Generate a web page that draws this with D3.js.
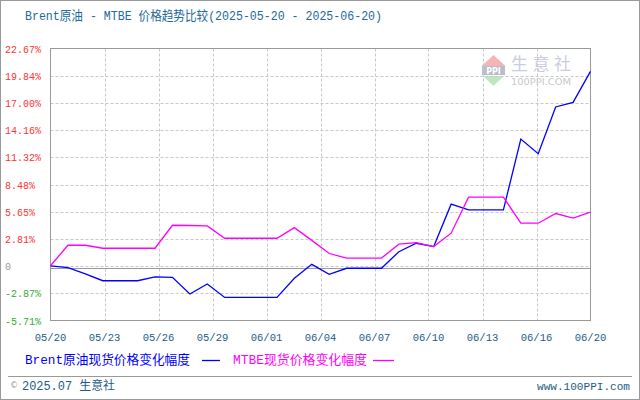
<!DOCTYPE html>
<html><head><meta charset="utf-8">
<script src="https://cdn.jsdelivr.net/npm/d3@7"></script>
<style>
html,body{margin:0;padding:0;background:#fff;}
svg{display:block;}
</style></head>
<body>
<svg id="c" width="640" height="400"></svg>
<script>
// ---- data ----
const startDate = "2025-05-20";
const endDate = "2025-06-20";
const brent = [0, -0.2, -0.85, -1.56, -1.56, -1.56, -1.15, -1.2, -2.95, -1.9, -3.3, -3.3, -3.3, -3.3, -1.3, 0.15, -0.9, -0.26, -0.26, -0.26, 1.47, 2.35, 2.0, 6.43, 5.83, 5.83, 5.83, 13.22, 11.69, 16.57, 17.05, 20.29];
const mtbe = [0, 2.14, 2.14, 1.83, 1.83, 1.83, 1.83, 4.23, 4.2, 4.16, 2.87, 2.87, 2.87, 2.87, 3.98, 2.65, 1.28, 0.8, 0.8, 0.8, 2.25, 2.42, 2.0, 3.4, 7.16, 7.16, 7.16, 4.44, 4.44, 5.45, 4.97, 5.59];
const xTickLabels = ["05/20","05/23","05/26","05/29","06/01","06/04","06/07","06/10","06/13","06/16","06/20"];
const yTickLabels = ["-5.71%","-2.87%","0","2.81%","5.65%","8.48%","11.32%","14.16%","17.00%","19.84%","22.67%"];
const yMin = -5.71, yMax = 22.67;
const titleText = "Brent原油 - MTBE 价格趋势比较(2025-05-20 - 2025-06-20)";
const seriesNames = ["Brent原油现货价格变化幅度", "MTBE现货价格变化幅度"];
const seriesColors = ["#0000ff", "#ff00ff"];

const parse = d3.timeParse("%Y-%m-%d");
const d0 = parse(startDate), d1 = parse(endDate);
const dates = d3.timeDay.range(d0, d3.timeDay.offset(d1, 1));

const svg = d3.select("#c");
const L = 50.5, R = 590.5, T = 48.5, B = 320.5;
const x = d3.scaleTime().domain([d0, d1]).range([L, R]);
const y = d3.scaleLinear().domain([yMin, yMax]).range([B, T]);

const mono = "'Liberation Mono','DejaVu Sans Mono','Noto Sans CJK SC',monospace";

// outer border
svg.append("rect").attr("x",0.5).attr("y",0.5).attr("width",639).attr("height",399)
  .attr("fill","#fff").attr("stroke","#999");

// title
svg.append("text").attr("x",25).attr("y",20).text(titleText)
  .attr("font-family",mono).attr("font-size",13).attr("fill","#22699c")
  .attr("textLength",357).attr("lengthAdjust","spacingAndGlyphs");

// watermark
const wm = svg.append("g");
wm.append("path").attr("d","M481.5,66 L493.5,55 L505.5,66 Z").attr("fill","#f4b6b4");
wm.append("rect").attr("x",482).attr("y",66).attr("width",23).attr("height",9).attr("fill","#b8bccc");
wm.append("text").attr("x",493.5).attr("y",74).attr("text-anchor","middle").text("PPI")
  .attr("font-family","DejaVu Sans").attr("font-weight","bold").attr("font-size",8).attr("fill","#fff");
wm.append("path").attr("d","M483,76 L493.5,86 L504,76 Z").attr("fill","#bde8bd");
wm.append("text").attr("x",511).attr("y",70).text("生意社")
  .attr("font-family","'Noto Sans CJK SC'").attr("font-size",17).attr("fill","#c9cde0")
  .attr("textLength",60).attr("lengthAdjust","spacing");
wm.append("text").attr("x",511).attr("y",85).text("100PPI.COM")
  .attr("font-family","'DejaVu Sans'").attr("font-size",9).attr("fill","#c8c8c8")
  .attr("textLength",60).attr("lengthAdjust","spacingAndGlyphs");

// gridlines
const yTickVals = yTickLabels.map((_, i) => yMin + i * (yMax - yMin) / (yTickLabels.length - 1));
const xTickVals = xTickLabels.map((_, i) => new Date(+d0 + i * (d1 - d0) / (xTickLabels.length - 1)));

svg.append("g").selectAll("line").data(yTickVals.slice(1, -1)).join("line")
  .attr("x1",L).attr("x2",R).attr("y1",d=>Math.round(y(d))+0.5).attr("y2",d=>Math.round(y(d))+0.5)
  .attr("stroke","#c8c8c8").attr("stroke-dasharray","3,2");
svg.append("g").selectAll("line").data(xTickVals.slice(1, -1)).join("line")
  .attr("y1",T).attr("y2",B).attr("x1",d=>Math.round(x(d))+0.5).attr("x2",d=>Math.round(x(d))+0.5)
  .attr("stroke","#c8c8c8").attr("stroke-dasharray","3,2");

// zero line
const zy = Math.round(y(0)) + 2.5;
svg.append("line").attr("x1",L).attr("x2",R).attr("y1",zy).attr("y2",zy).attr("stroke","#999");

// frame
svg.append("rect").attr("x",L).attr("y",T).attr("width",R-L).attr("height",B-T)
  .attr("fill","none").attr("stroke","#999");

// y labels
svg.append("g").selectAll("text").data(yTickVals).join("text")
  .attr("x",5).attr("y",d=>y(d)+4).text((d,i)=>yTickLabels[i])
  .attr("font-family",mono).attr("font-size",10)
  .attr("fill",(d,i)=> yTickLabels[i]==="0" ? "#999" : (yTickLabels[i].startsWith("-") ? "#33aa33" : "#ff3333"));

// x labels
svg.append("g").selectAll("text").data(xTickVals).join("text")
  .attr("x",d=>x(d)).attr("y",341).attr("text-anchor","middle").text((d,i)=>xTickLabels[i])
  .attr("font-family",mono).attr("font-size",10.5).attr("fill","#1d5c86");

// lines
const line = d3.line().x((d,i)=>x(dates[i])).y(d=>y(d));
[brent, mtbe].forEach((s, k) => {
  svg.append("path").datum(s).attr("d", line).attr("fill","none")
    .attr("stroke", seriesColors[k]).attr("stroke-width",1.3);
});

// legend
const lg = [{x:25, w:165, lx1:202, lx2:220}, {x:233, w:134, lx1:373, lx2:394}];
lg.forEach((g, k) => {
  svg.append("text").attr("x",g.x).attr("y",364).text(seriesNames[k])
    .attr("font-family",mono).attr("font-size",13).attr("fill",seriesColors[k])
    .attr("textLength",g.w).attr("lengthAdjust","spacingAndGlyphs");
  svg.append("line").attr("x1",g.lx1).attr("x2",g.lx2).attr("y1",360.5).attr("y2",360.5)
    .attr("stroke",seriesColors[k]).attr("stroke-width",1.3);
});

// footer
svg.append("line").attr("x1",8).attr("x2",632).attr("y1",376.5).attr("y2",376.5).attr("stroke","#999");
svg.append("text").attr("x",10).attr("y",388).text("©").attr("font-family","'DejaVu Sans'").attr("font-size",8).attr("fill","#999");
svg.append("text").attr("x",22).attr("y",390).text("2025.07 生意社")
  .attr("font-family",mono).attr("font-size",12).attr("fill","#1d5c86")
  .attr("textLength",93).attr("lengthAdjust","spacingAndGlyphs");
svg.append("text").attr("x",630).attr("y",390).attr("text-anchor","end").text("www.100PPI.com")
  .attr("font-family",mono).attr("font-size",11).attr("fill","#1d5c86")
  .attr("textLength",93).attr("lengthAdjust","spacingAndGlyphs");
</script>
</body></html>
